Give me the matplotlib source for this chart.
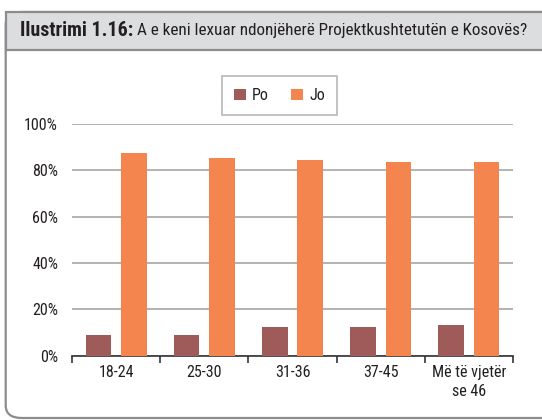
import matplotlib
matplotlib.use('Agg')

import matplotlib.pyplot as plt
import numpy as np
from matplotlib.patches import FancyBboxPatch, Rectangle

plt.rcParams['font.family'] = ['Roboto Condensed', 'DejaVu Sans']
plt.rcParams['font.stretch'] = 'condensed'

# Data
categories = ['18-24', '25-30', '31-36', '37-45', 'Më të vjetër\nse 46']
po = [9.0, 9.0, 12.2, 12.2, 13.0]
jo = [87.5, 85.3, 84.4, 83.6, 83.6]
yticks = [0, 20, 40, 60, 80, 100]
title_bold = 'Ilustrimi 1.16:'
title_rest = 'A e keni lexuar ndonjëherë Projektkushtetutën e Kosovës?'

po_color = '#9e5b5a'
jo_color = '#f5854e'
frame_color = '#8c8c8c'
text_color = '#231f20'

W, H = 542, 420
fig = plt.figure(figsize=(W / 100, H / 100), dpi=100)

# Outer frame with rounded corners and the grey title band
frame = FancyBboxPatch((5.7 / W, 1 - 418 / H), (560 - 5.7) / W, (418 - 12) / H,
                       boxstyle='round,pad=0,rounding_size=0.03',
                       transform=fig.transFigure, facecolor='none',
                       edgecolor=frame_color, linewidth=1.6, zorder=-1)
fig.patches.append(frame)
band = Rectangle((5.7 / W, 1 - 50 / H), (560 - 5.7) / W, (50 - 12) / H,
                 transform=fig.transFigure, facecolor='#dcdddf',
                 edgecolor=frame_color, linewidth=1.6, zorder=-1)
fig.patches.append(band)


def fit_text(txt, x0, x1, size, **kw):
    # shrink text so it spans x0..x1 pixels
    t = fig.text(x0 / W, 1 - 31 / H, txt, fontsize=size, color=text_color,
                 va='center', ha='left', **kw)
    fig.canvas.draw()
    w = t.get_window_extent().width
    t.set_fontsize(size * (x1 - x0) / w)
    return t


fit_text(title_bold, 20, 133, 15, fontweight='bold')
fit_text(title_rest, 137, 530, 14)

ax = fig.add_axes([72 / W, 1 - 355.5 / H, (513 - 72) / W, (355.5 - 124) / H])
ax.patch.set_alpha(0)
x = np.arange(len(categories))
width = 0.29
ax.bar(x - 0.2, po, width, color=po_color, label='Po', zorder=3)
ax.bar(x + 0.2, jo, width, color=jo_color, label='Jo', zorder=3)

ax.set_xlim(-0.5, len(categories) - 0.5)
ax.set_ylim(0, 100)
ax.set_yticks(yticks)
ax.set_yticklabels([f'{v}%' for v in yticks], fontsize=11.5, color=text_color)
ax.yaxis.grid(True, color='#a6a6a6', linewidth=1.2)
ax.tick_params(axis='y', length=0, pad=10)

ax.set_xticks(x)
ax.set_xticklabels(categories, fontsize=11.5, color=text_color, linespacing=1.35)
ax.set_xticks(np.arange(-0.5, len(categories)), minor=True)
ax.tick_params(axis='x', which='major', length=0, pad=7)
ax.tick_params(axis='x', which='minor', length=5, width=1.2, color='#333333', direction='out')

for s in ['top', 'right', 'left']:
    ax.spines[s].set_visible(False)
ax.spines['bottom'].set_color('#333333')
ax.spines['bottom'].set_linewidth(1.2)
ax.set_axisbelow(True)

leg = fig.legend(loc='center', bbox_to_anchor=(279.5 / W, 1 - 95.5 / H), ncol=2,
                 frameon=True, fancybox=False, fontsize=11.5, handlelength=0.75,
                 handleheight=0.75, handletextpad=0.4, columnspacing=1.4,
                 borderpad=0.75)
leg.get_frame().set_edgecolor('#a6a6a6')
leg.get_frame().set_linewidth(1.2)
for t in leg.get_texts():
    t.set_color(text_color)

fig.savefig('out.png', dpi=100)
